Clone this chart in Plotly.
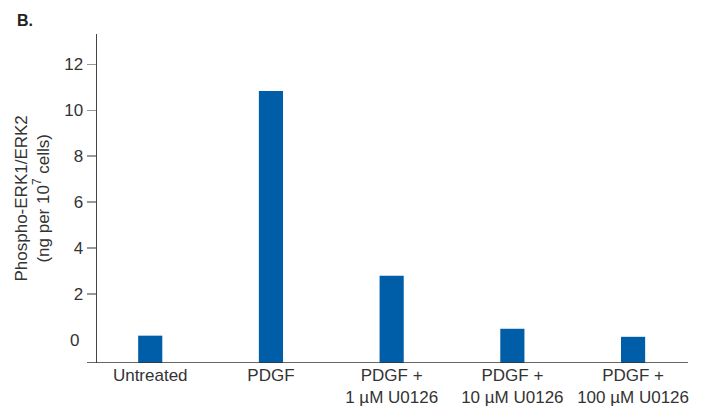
import plotly.graph_objects as go

categories = ["Untreated", "PDGF", "PDGF +<br>1 µM U0126", "PDGF +<br>10 µM U0126", "PDGF +<br>100 µM U0126"]
values = [0.19, 10.84, 2.80, 0.49, 0.14]
baseline = -1.0
tick_vals = [2, 4, 6, 8, 10, 12]
tick_text = ["2", "4", "6", "8", "10", "12"]

FONT = "Liberation Sans, Arial, sans-serif"
BLUE = "#005EA8"
TXT = "#333333"

fig = go.Figure()
fig.add_trace(go.Bar(
    x=list(range(len(categories))),
    y=[v - baseline for v in values],
    base=baseline,
    width=0.2,
    marker=dict(color=BLUE, line=dict(width=0)),
    hoverinfo="skip",
))

W, H = 707, 408
L, R, T, B = 97, 19, 33.5, 44.7
pw = W - L - R
ph = H - T - B

fig.update_layout(
    width=W, height=H,
    margin=dict(l=L, r=R, t=T, b=B, autoexpand=False),
    paper_bgcolor="white", plot_bgcolor="white",
    showlegend=False,
    font=dict(family=FONT, size=17, color=TXT),
    xaxis=dict(
        range=[-0.441, 4.455],
        tickvals=list(range(len(categories))),
        ticktext=categories,
        showline=False, showgrid=False, zeroline=False,
        ticks="", tickfont=dict(size=17, color=TXT),
        automargin=False,
    ),
    yaxis=dict(
        range=[baseline, 13.32],
        tickvals=tick_vals, ticktext=tick_text,
        showline=True, linecolor="#444444", linewidth=1.5,
        showgrid=False, zeroline=False,
        ticks="outside", ticklen=9, tickcolor="#999999", tickwidth=1.5,
        tickfont=dict(size=17, color=TXT),
        automargin=False,
    ),
)

# x axis line extending left past the y axis
fig.add_shape(type="line", xref="paper", yref="y",
              x0=-10 / pw, x1=1, y0=baseline, y1=baseline,
              line=dict(color="#333333", width=1.5))

# "0" label (no tick mark)
fig.add_annotation(xref="paper", yref="y", x=-16 / pw, y=0, text="0",
                   showarrow=False, xanchor="right", yanchor="middle",
                   font=dict(size=17, color=TXT))

# y axis title
fig.add_annotation(xref="paper", yref="paper", x=(32 - L) / pw, y=0.5,
                   text="Phospho-ERK1/ERK2<br>(ng per 10<sup>7</sup> cells)",
                   textangle=-90, showarrow=False, xanchor="center", yanchor="middle",
                   font=dict(size=17, color=TXT))

# panel label
fig.add_annotation(xref="paper", yref="paper", x=(15 - L) / pw, y=1 + (T - 20) / ph,
                   text="<b>B.</b>", showarrow=False, xanchor="left", yanchor="middle",
                   font=dict(size=16, color="#222222"))

fig.write_html("out.html",
               config={"displayModeBar": False, "staticPlot": True},
               post_script="document.body.style.margin='0';document.body.style.overflow='hidden';")
